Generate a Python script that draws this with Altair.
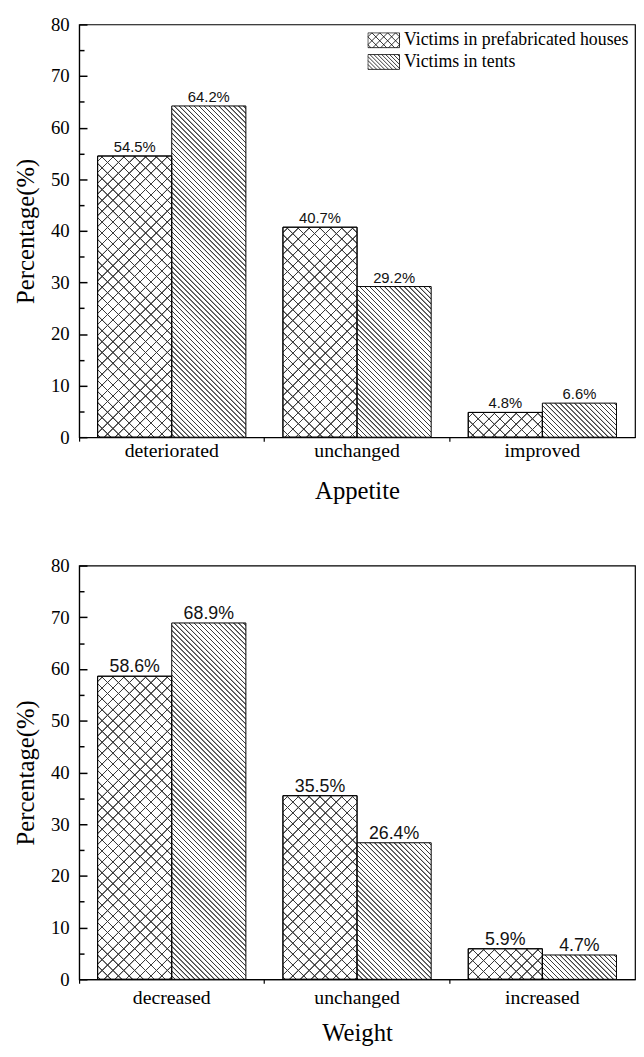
import math
import altair as alt

# ---------------- data ----------------
series = ["Victims in prefabricated houses", "Victims in tents"]

appetite_categories = ["deteriorated", "unchanged", "improved"]
appetite_prefab = [54.5, 40.7, 4.8]
appetite_tents = [64.2, 29.2, 6.6]

weight_categories = ["decreased", "unchanged", "increased"]
weight_prefab = [58.6, 35.5, 5.9]
weight_tents = [68.9, 26.4, 4.7]

y_ticks = [0, 10, 20, 30, 40, 50, 60, 70, 80]
y_minor = [5, 15, 25, 35, 45, 55, 65, 75]

# ---------------- layout / style ----------------
PLOT_W = 563
TOP_H = 418
BOT_H = 419
Y_MAX = 80
PAD_IN, PAD_OUT = 0.2, 0.1
HALF_BAR = (PLOT_W / 3.0) * (1 - PAD_IN) / 2.0
LINE = "#3c3c3c"
WHITE = "white"
CLEAR = "rgba(0,0,0,0)"
SERIF = "Liberation Serif"
SANS = "Liberation Sans"


def hatch(W, H, kind, period, fg, bg, lw=0.9, soft=0.5):
    """linear-gradient stripes at 45 degrees for a box of W x H px"""
    L = W + H
    k = L / (W * W + H * H)
    if kind == "back":  # lines like '\'
        x1, y1, x2, y2 = 1.0, 0.0, 1.0 - W * k, H * k
        cmin = -W
    else:  # lines like '/'
        x1, y1, x2, y2 = 0.0, 0.0, W * k, H * k
        cmin = 0.0
    stops = [{"offset": 0, "color": bg}]
    c = cmin + period * 0.5
    while c - lw / 2 - soft < cmin + L:
        for pos, col in ((c - lw / 2 - soft, bg), (c - lw / 2, fg),
                         (c + lw / 2, fg), (c + lw / 2 + soft, bg)):
            t = min(max((pos - cmin) / L, 0.0), 1.0)
            stops.append({"offset": round(t, 5), "color": col})
        c += period
    stops.append({"offset": 1, "color": bg})
    return {"gradient": "linear", "x1": round(x1, 5), "y1": round(y1, 5),
            "x2": round(x2, 5), "y2": round(y2, 5), "stops": stops}


def legend_path(dirs, period, w=32.0, h=15.0):
    s = w / 2.0
    hw, hh = w / 2.0, h / 2.0
    f = lambda v: f"{v / s:.4f}"
    parts = [f"M{f(-hw)},{f(-hh)}H{f(hw)}V{f(hh)}H{f(-hw)}Z"]
    span = hw + hh
    for d in dirs:
        c = -span + period / 2.0
        while c < span:
            if d == "back":  # y = x + c
                xa, xb = max(-hw, -hh - c), min(hw, hh - c)
                if xb - xa > 0.3:
                    parts.append(f"M{f(xa)},{f(xa + c)}L{f(xb)},{f(xb + c)}")
            else:  # y = -x + c
                xa, xb = max(-hw, c - hh), min(hw, c + hh)
                if xb - xa > 0.3:
                    parts.append(f"M{f(xa)},{f(-xa + c)}L{f(xb)},{f(-xb + c)}")
            c += period
    return "".join(parts)


legend_shapes = [legend_path(["back", "fwd"], 8.0), legend_path(["back"], 4.0)]


def records(cats, prefab, tents, plot_h):
    rows = []
    for i, cat in enumerate(cats):
        for s, v in ((series[0], prefab[i]), (series[1], tents[i])):
            H = v / Y_MAX * plot_h
            if s == series[0]:
                ga = hatch(HALF_BAR, H, "back", 11.0, LINE, WHITE, lw=0.8)
                gb = hatch(HALF_BAR, H, "fwd", 11.0, LINE, CLEAR, lw=0.8)
            else:
                ga = hatch(HALF_BAR, H, "back", 5.0, LINE, WHITE, lw=0.8)
                gb = CLEAR
            rows.append({"cat": cat, "series": s, "value": v,
                         "label": f"{v:.1f}%", "ga": ga, "gb": gb})
    return rows


def panel(cats, prefab, tents, plot_h, xtitle, val_size, xlab_pad, title_y):
    base = alt.Chart(alt.Data(values=records(cats, prefab, tents, plot_h)))
    xaxis = alt.Axis(labelAngle=0, labelFontSize=20, labelPadding=xlab_pad,
                     tickSize=4, tickColor="black", tickWidth=1.2,
                     bandPosition=-PAD_IN / (2 * (1 - PAD_IN)),
                     domainColor="black", domainWidth=1.2,
                     titleFontSize=25, titleY=title_y,
                     titleBaseline="alphabetic")
    x = alt.X("cat:N", sort=cats, title=xtitle,
              scale=alt.Scale(paddingInner=PAD_IN, paddingOuter=PAD_OUT),
              axis=xaxis)
    xo = alt.XOffset("series:N", sort=series,
                     scale=alt.Scale(paddingInner=0, paddingOuter=0))
    ysc = alt.Scale(domain=[0, Y_MAX], nice=False, zero=True)

    label_axis = alt.Axis(orient="left", values=y_ticks, ticks=False, tickSize=0,
                          labelPadding=10, labelFontSize=19,
                          domainColor="black", domainWidth=1.2,
                          titleFontSize=25, titleAngle=270, titleX=-54,
                          titleY=plot_h / 2, titleBaseline="middle",
                          titleAlign="center")
    major_axis = alt.Axis(orient="left", values=y_ticks, offset=-8, tickSize=8,
                          tickWidth=1.5, tickColor="black", labels=False,
                          domain=False, title=None)
    minor_axis = alt.Axis(orient="left", values=y_minor, offset=-5, tickSize=5,
                          tickWidth=1.5, tickColor="black", labels=False,
                          domain=False, title=None)

    layer_a = base.mark_bar(stroke="black", strokeWidth=1).encode(
        x=x, xOffset=xo,
        y=alt.Y("value:Q", scale=ysc, axis=label_axis, title="Percentage(%)"),
        fill=alt.Fill("ga:N", scale=None),
    )
    layer_b = base.transform_filter(alt.datum.series == series[0]).mark_bar(
        stroke="black", strokeWidth=1).encode(
        x=x, xOffset=xo,
        y=alt.Y("value:Q", scale=ysc, axis=major_axis),
        fill=alt.Fill("gb:N", scale=None),
    )
    text = base.mark_text(baseline="alphabetic", dy=-4, font=SANS,
                          fontSize=val_size, color="#111111").encode(
        x=x, xOffset=xo,
        y=alt.Y("value:Q", scale=ysc, axis=minor_axis),
        text="label:N",
    )
    legend = base.transform_filter("false").mark_point(
        filled=False, color="black", strokeWidth=0.8).encode(
        shape=alt.Shape("series:N",
                        scale=alt.Scale(domain=series, range=legend_shapes),
                        legend=alt.Legend(title=None, orient="none",
                                          legendX=292, legendY=8,
                                          labelFont=SERIF, labelFontSize=18,
                                          labelColor="black", labelLimit=400,
                                          symbolSize=1024, symbolStrokeWidth=0.8,
                                          symbolStrokeColor="black",
                                          symbolOpacity=1, labelOffset=4,
                                          clipHeight=16,
                                          rowPadding=4, padding=0,
                                          direction="vertical")),
    )
    return alt.layer(layer_a, layer_b, text, legend).resolve_axis(
        y="independent").properties(width=PLOT_W, height=plot_h)


top = panel(appetite_categories, appetite_prefab, appetite_tents, TOP_H,
            "Appetite", 15, 0, 62)
bottom = panel(weight_categories, weight_prefab, weight_tents, BOT_H,
               "Weight", 18, 5, 62)

chart = alt.vconcat(top, bottom, spacing=52).properties(
    padding={"left": 5, "top": 0, "right": 0, "bottom": 0},
    background="white",
).configure_view(stroke="black", strokeWidth=1.2, fill="white").configure_axis(
    labelFont=SERIF, titleFont=SERIF, labelColor="black", titleColor="black",
    titleFontWeight="normal", grid=False,
)

chart.save("out.html", embed_options={"renderer": "svg", "actions": False})
